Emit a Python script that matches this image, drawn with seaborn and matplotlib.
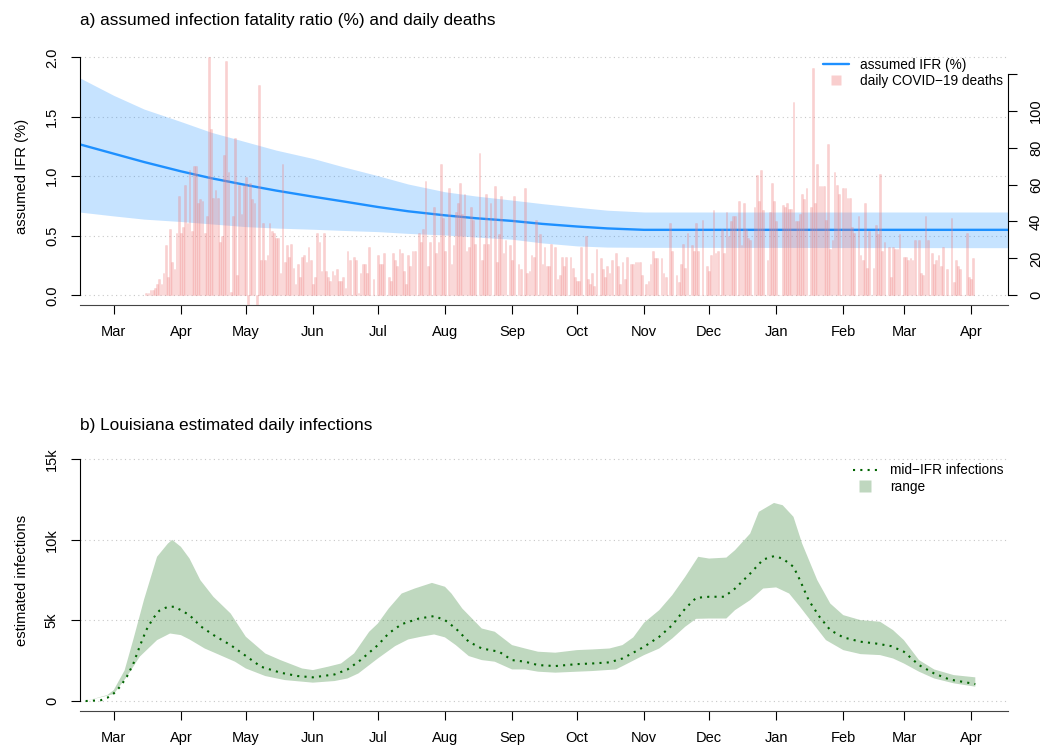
import numpy as np
import pandas as pd
import matplotlib
matplotlib.use("Agg")
import matplotlib.pyplot as plt
import matplotlib.dates as mdates
from matplotlib.lines import Line2D
import seaborn as sns

START = pd.Timestamp("2020-03-01")

# ---- panel a: assumed IFR (%) ------------------------------------------
ifr_dates = ["2020-02-14", "2020-03-01", "2020-03-15", "2020-04-01", "2020-04-15",
             "2020-05-01", "2020-05-15", "2020-06-01", "2020-06-15", "2020-07-01",
             "2020-07-15", "2020-08-01", "2020-08-15", "2020-09-01", "2020-09-15",
             "2020-10-01", "2020-10-15", "2020-11-01", "2021-04-18"]
ifr_mid = [1.27, 1.19, 1.12, 1.042, 0.984, 0.927, 0.88, 0.829, 0.789, 0.742,
           0.706, 0.672, 0.648, 0.625, 0.60, 0.578, 0.562, 0.55, 0.55]
ifr_high = [1.83, 1.68, 1.565, 1.46, 1.37, 1.29, 1.22, 1.15, 1.08, 1.005,
            0.935, 0.87, 0.835, 0.80, 0.77, 0.74, 0.715, 0.70, 0.70]
ifr_low = [0.70, 0.667, 0.64, 0.62, 0.60, 0.577, 0.565, 0.555, 0.545, 0.535,
           0.52, 0.507, 0.49, 0.471, 0.44, 0.415, 0.405, 0.403, 0.40]

# daily COVID-19 deaths, one value per day from 2020-03-16
deaths_spring = [1, 1, 3, 3, 4, 6, 9, 6, 12, 27, 10, 36, 18, 14, 34, 54, 34, 37, 60, 39,
                 68, 35, 70, 70, 50, 52, 51, 34, 43, 129, 90, 53, 57, 53, 29, 32, 76, 127, 67, 2,
                 43, 85, 11, 60, 44, 60, 64, -6, 61, 52, 50, -6, 114, 19, 39, 19, 22, 39, 35, 34,
                 31, 31, 12, 71, 18, 27, 21, 28, 15, 6, 17, 10, 21, 22]
deaths_summer = [18, 26, 19, 6, 10, 34, 29, 13, 34, 13, 10, 8, 13, 11, 14, 8, 8, 10, 4, 24,
                 19, 0, 21, 19, 1, 12, 17, 17, 12, 26, 0, 9, 0, 22, 17, 17, 23, 0, 10, 8,
                 23, 19, 16, 25, 23, 13, 6, 22, 16, 24, 24, 0, 34, 29, 36, 62, 16, 29, 0, 48,
                 23, 29, 71, 42, 24, 0, 58, 17, 27, 45, 50, 61, 44, 55, 24, 26]
deaths_autumn = [48, 41, 28, 0, 77, 19, 28, 55, 28, 50, 0, 59, 18, 33, 54, 23, 30, 0, 27, 19,
                 54, 0, 17, 14, 0, 58, 12, 13, 22, 21, 41, 0, 33, 17, 26, 16, 16, 28, 0, 26,
                 9, 11, 21, 16, 21, 0, 21, 15, 10, 8, 8, 26, 0, 32, 9, 6, 12, 5, 25, 0,
                 20, 14, 10, 16, 12, 19, 0, 23, 16, 6, 18, 9, 21, 0, 17, 17]
deaths_winter = [18, 18, 18, 11, 0, 6, 8, 17, 24, 20, 20, 0, 20, 12, 10, 0, 39, 24, 0, 11,
                 7, 17, 28, 15, 34, 0, 27, 24, 39, 24, 0, 41, 0, 16, 13, 22, 46, 23, 24, 0,
                 36, 23, 45, 32, 40, 43, 43, 0, 51, 27, 50, 36, 31, 30, 0, 48, 65, 51, 68, 46,
                 0, 19, 45, 61, 51, 40, 0, 0, 49, 48, 50, 47, 47, 105, 40, 40]
deaths_2021 = [44, 55, 52, 58, 0, 48, 123, 50, 71, 59, 59, 59, 41, 82, 25, 30, 67, 60, 55, 0,
               58, 58, 53, 53, 37, 34, 0, 43, 22, 19, 50, 15, 35, 0, 15, 38, 33, 66, 24, 29,
               0, 26, 10, 26, 25, 25, 33, 0, 21, 21, 19, 20, 19, 30, 0, 30, 12, 11, 43, 30,
               0, 23, 17, 19, 22, 16, 26, 0, 14, 0, 42, 7, 19, 16, 14, 0, 0, 34, 10, 9, 20]

# ---- panel b: estimated daily infections (thousands), days after 2020-03-01
mid_days = [-13, -6, -3, 0, 3, 6, 9, 12, 15, 18, 21, 25, 28, 31, 35, 40, 46, 54, 61, 68,
            77, 85, 92, 102, 108, 114, 122, 127, 133, 141, 148, 153, 158, 164, 170, 178, 184,
            190, 196, 204, 214, 221, 229, 235, 240, 245, 252, 258, 264, 269, 275, 282, 287,
            294, 300, 305, 309, 314, 317, 321, 326, 331, 337, 345, 352, 359, 365, 372, 379,
            386, 396, 398]
mid_k = [0, 0.05, 0.2, 0.47, 0.9, 1.5, 2.3, 3.4, 4.4, 5.1, 5.6, 5.85, 5.85, 5.64, 5.33, 4.65,
         4.1, 3.47, 2.8, 2.13, 1.76, 1.55, 1.47, 1.65, 1.96, 2.54, 3.47, 4.2, 4.77, 5.12, 5.27,
         5.02, 4.5, 3.68, 3.26, 3.06, 2.54, 2.44, 2.23, 2.17, 2.29, 2.33, 2.4, 2.64, 3.0, 3.37,
         3.99, 4.71, 5.74, 6.4, 6.47, 6.47, 6.98, 7.91, 8.78, 8.99, 8.84, 8.33, 7.5, 6.26, 5.23,
         4.4, 3.95, 3.68, 3.57, 3.41, 3.06, 2.23, 1.71, 1.34, 1.1, 1.05]
high_days = [-13, -3, 0, 5, 9, 14, 20, 25, 27, 31, 35, 40, 46, 54, 61, 70, 77, 87, 92, 99,
             105, 111, 118, 122, 127, 133, 139, 147, 153, 156, 161, 170, 176, 184,
             190, 196, 204, 214, 221, 229, 235, 240, 245, 252, 258, 264, 270, 275, 283, 287,
             294, 298, 305, 309, 314, 318, 325, 331, 337, 345, 354, 360, 365, 372, 379, 388, 398]
high_k = [0, 0.37, 0.68, 1.9, 3.8, 6.3, 8.95, 9.77, 10.0, 9.57, 8.84, 7.5, 6.47, 5.43, 3.99,
          2.95, 2.54, 2.02, 1.92, 2.13, 2.33, 2.95, 4.3, 4.81, 5.74, 6.67, 6.98, 7.33, 7.09,
          6.67, 5.74, 4.5, 4.3, 3.47,
          3.26, 3.06, 3.0, 3.16, 3.2, 3.26, 3.47, 3.95, 4.86, 5.64, 6.57, 7.71, 8.95, 8.84,
          8.9, 9.36, 10.39, 11.74, 12.29, 12.15, 11.43, 9.77, 7.5, 6.05, 5.33, 5.02, 4.92,
          4.4, 3.78, 2.54, 1.96, 1.61, 1.47]
low_days = [-13, 0, 6, 12, 20, 26, 31, 35, 42, 48, 56, 61, 70, 79, 92, 102, 108, 113, 122,
            130, 136, 142, 148, 153, 158, 164, 170, 176, 184,
            190, 196, 204, 214, 221, 232, 236, 245, 252, 258, 264, 269, 275, 283, 287, 294,
            300, 306, 312, 317, 323, 329, 337, 345, 354, 360, 365, 372, 379, 388, 398]
low_k = [0, 0.43, 1.5, 2.75, 3.78, 4.19, 4.09, 3.82, 3.26, 2.91, 2.44, 2.02, 1.55, 1.3, 1.14,
         1.24, 1.4, 1.71, 2.64, 3.41, 3.82, 3.99, 4.13, 3.95, 3.47, 2.79, 2.54, 2.44, 1.96,
         1.96, 1.82, 1.76, 1.82, 1.86, 1.96, 2.23, 2.85, 3.26, 3.88, 4.61, 5.1, 5.12, 5.12,
         5.64, 6.26, 6.98, 7.05, 6.67, 5.85, 4.81, 3.78, 3.16, 2.91, 2.85, 2.64, 2.33, 1.82,
         1.4, 1.1, 0.89]

ifr_ticks = [0.0, 0.5, 1.0, 1.5, 2.0]
ifr_labels = ["0.0", "0.5", "1.0", "1.5", "2.0"]
death_ticks = [0, 20, 40, 60, 80, 100, 120]
death_labels = ["0", "20", "40", "60", "80", "100", ""]
inf_ticks = [0, 5000, 10000, 15000]
inf_labels = ["0", "5k", "10k", "15k"]

PINK = (0.94, 0.5, 0.5)


def to_dates(days):
    return START + pd.to_timedelta(days, unit="D")


sns.set_theme(style="white", rc={
    "axes.edgecolor": "black", "text.color": "black", "axes.labelcolor": "black",
    "xtick.color": "black", "ytick.color": "black",
})
plt.rcParams["font.family"] = ["Liberation Sans", "DejaVu Sans"]

W, H = 1059, 746
fig = plt.figure(figsize=(W / 100, H / 100), dpi=100)
ax_a = fig.add_axes([80 / W, 1 - 304.8 / H, 928 / W, 257.0 / H])
ax_b = fig.add_axes([80 / W, 1 - 710.7 / H, 928 / W, 261.1 / H])

xmin = START + pd.Timedelta(days=-15.6)
xmax = START + pd.Timedelta(days=413.1)

# ---- panel a ----
ifr = pd.DataFrame({"date": pd.to_datetime(ifr_dates), "mid": ifr_mid,
                    "low": ifr_low, "high": ifr_high})
ax_a.fill_between(ifr["date"], ifr["low"], ifr["high"], color="dodgerblue",
                  alpha=0.25, lw=0)
sns.lineplot(data=ifr, x="date", y="mid", ax=ax_a, color="dodgerblue", lw=1.7)

deaths = np.concatenate([deaths_spring, deaths_summer, deaths_autumn, deaths_winter, deaths_2021])
death_dates = pd.date_range("2020-03-16", periods=len(deaths), freq="D")
ax_d = ax_a.twinx()
ax_d.bar(death_dates, deaths, width=0.8, color=PINK + (0.37,),
         edgecolor=PINK + (0.25,), lw=0.4)

ax_a.set_ylim(-0.08, 2.08)
dscale = deaths.max() / 2.0
ax_d.set_ylim(-0.08 * dscale, 2.08 * dscale)

# ---- panel b ----
mid = pd.DataFrame({"date": to_dates(mid_days), "inf": np.array(mid_k) * 1000})
poly_x = np.concatenate([to_dates(high_days).values, to_dates(low_days)[::-1].values])
poly_y = np.concatenate([np.array(high_k) * 1000, np.array(low_k)[::-1] * 1000])
ax_b.fill(poly_x, poly_y, color="darkgreen", alpha=0.25, lw=0)
sns.lineplot(data=mid, x="date", y="inf", ax=ax_b, color="darkgreen", lw=1.5,
             linestyle=(0, (1.0, 2.5)), dash_capstyle="butt")
ax_b.set_ylim(-600, 15600)

# ---- axes styling (R base-graphics look) ----
for ax in (ax_a, ax_b):
    ax.set_xlim(xmin, xmax)
    ax.xaxis.set_major_locator(mdates.MonthLocator())
    ax.xaxis.set_major_formatter(mdates.DateFormatter("%b"))
    for s in ("top", "right"):
        ax.spines[s].set_visible(False)
    ax.spines["left"].set_linewidth(0.8)
    ax.spines["bottom"].set_linewidth(0.8)
    ax.spines["bottom"].set_color("#444444")
    ax.tick_params(axis="x", bottom=True, direction="out", length=6.7, width=0.8,
                   labelsize=10.5, pad=8)
    ax.tick_params(axis="y", left=True, direction="out", length=6.7, width=0.8,
                   labelsize=10.5, pad=8.5, labelrotation=90)
    ax.yaxis.grid(True, color="#c8c8c8", lw=0.8, linestyle=(0, (1, 3)))
    ax.set_xlabel("")

ax_a.set_yticks(ifr_ticks)
ax_a.set_yticklabels(ifr_labels)
ax_a.spines["left"].set_bounds(0, 2)
ax_a.set_ylabel("assumed IFR (%)", fontsize=10.6)

ax_b.set_yticks(inf_ticks)
ax_b.set_yticklabels(inf_labels)
ax_b.spines["left"].set_bounds(0, 15000)
ax_b.set_ylabel("estimated infections", fontsize=10.6)

for ax in (ax_a, ax_b):
    ax.yaxis.label.set_va("center")
    ax.yaxis.set_label_coords(-58.3 / 928, 0.5)

for s in ("top", "left", "bottom"):
    ax_d.spines[s].set_visible(False)
ax_d.spines["right"].set_bounds(0, 120)
ax_d.spines["right"].set_linewidth(0.8)
ax_d.set_yticks(death_ticks)
ax_d.set_yticklabels(death_labels)
ax_d.tick_params(axis="y", right=True, direction="out", length=6.7, width=0.8,
                 labelsize=10.5, pad=8.5, labelrotation=90)
ax_d.grid(False)

for ax in (ax_a, ax_b):
    for t in ax.get_yticklabels():
        t.set_va("center")
        t.set_ha("right")
for t in ax_d.get_yticklabels():
    t.set_va("center")
    t.set_ha("left")

# ---- titles ----
fig.text(80 / W, 1 - 20 / H, "a) assumed infection fatality ratio (%) and daily deaths",
         fontsize=12.4, ha="left", va="center")
fig.text(80 / W, 1 - 425 / H, "b) Louisiana estimated daily infections",
         fontsize=12.4, ha="left", va="center")

# ---- legends ----
h_a = [Line2D([], [], color="dodgerblue", lw=1.7),
       Line2D([], [], ls="none", marker="s", ms=7.5,
              markerfacecolor=PINK + (0.38,), markeredgecolor="none")]
ax_d.legend(h_a, ["assumed IFR (%)", "daily COVID\u221219 deaths"], loc="upper left",
            bbox_to_anchor=(823 / W, 1 - 57.5 / H), bbox_transform=fig.transFigure,
            frameon=False, borderpad=0, borderaxespad=0, handlelength=1.91,
            handletextpad=0.8, labelspacing=0.15, fontsize=9.8)
h_b = [Line2D([], [], color="darkgreen", lw=1.5, linestyle=(0, (1.0, 2.5)),
              dash_capstyle="butt"),
       Line2D([], [], ls="none", marker="s", ms=8,
              markerfacecolor=(0.0, 0.39, 0.0, 0.25), markeredgecolor="none")]
ax_b.legend(h_b, ["mid\u2212IFR infections", "range"], loc="upper left",
            bbox_to_anchor=(852.7 / W, 1 - 463.5 / H), bbox_transform=fig.transFigure,
            frameon=False, borderpad=0, borderaxespad=0, handlelength=1.76,
            handletextpad=0.96, labelspacing=0.15, fontsize=9.8)

fig.savefig("out.png", dpi=100)
